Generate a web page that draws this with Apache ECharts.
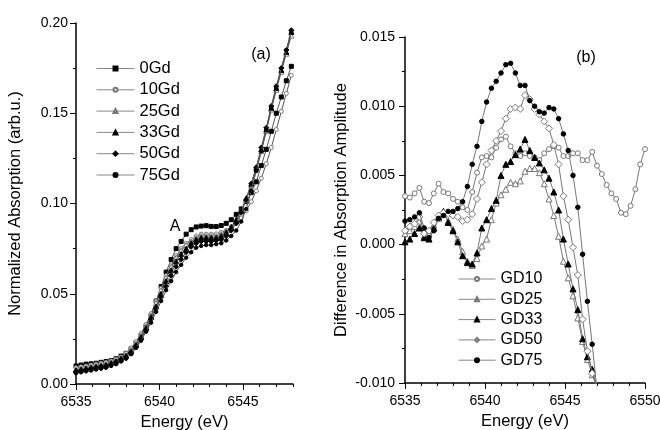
<!DOCTYPE html>
<html><head><meta charset="utf-8">
<script src="https://cdn.jsdelivr.net/npm/echarts@6/dist/echarts.min.js"></script>
<style>html,body{margin:0;padding:0;background:#fff}#c{width:660px;height:430px}</style>
</head><body><div id="c"></div>
<script>
// ---------- data ----------
const leftEnergy = [6535.0,6535.3,6535.6,6535.9,6536.2,6536.5,6536.8,6537.1,6537.4,6537.7,6538.0,6538.3,6538.6,6538.9,6539.2,6539.5,6539.8,6540.1,6540.4,6540.7,6541.0,6541.3,6541.6,6541.9,6542.2,6542.5,6542.8,6543.1,6543.4,6543.7,6544.0,6544.3,6544.6,6544.9,6545.2,6545.5,6545.8,6546.1,6546.4,6546.7,6547.0,6547.3,6547.6,6547.9];
const rightEnergy = [6535.0,6535.3,6535.6,6535.9,6536.2,6536.5,6536.8,6537.1,6537.4,6537.7,6538.0,6538.3,6538.6,6538.9,6539.2,6539.5,6539.8,6540.1,6540.4,6540.7,6541.0,6541.3,6541.6,6541.9,6542.2,6542.5,6542.8,6543.1,6543.4,6543.7,6544.0,6544.3,6544.6,6544.9,6545.2,6545.5,6545.8,6546.1,6546.4,6546.7,6547.0,6547.3,6547.6,6547.9,6548.2,6548.5,6548.8,6549.1,6549.4,6549.7,6550.0];

const leftNames = ['0Gd','10Gd','25Gd','33Gd','50Gd','75Gd'];
const abs0Gd  = [0.010,0.0105,0.011,0.0112,0.0115,0.012,0.0125,0.013,0.014,0.0155,0.017,0.0195,0.023,0.027,0.032,0.038,0.046,0.054,0.062,0.069,0.075,0.079,0.083,0.0855,0.087,0.0875,0.0877,0.0873,0.0872,0.0878,0.089,0.091,0.094,0.097,0.101,0.106,0.112,0.121,0.130,0.140,0.150,0.159,0.168,0.176];
const abs10Gd = [0.009,0.0095,0.010,0.0105,0.011,0.0115,0.012,0.0128,0.0138,0.015,0.017,0.020,0.0235,0.028,0.033,0.039,0.046,0.053,0.060,0.066,0.071,0.075,0.078,0.080,0.082,0.083,0.083,0.083,0.0832,0.084,0.085,0.087,0.089,0.092,0.096,0.101,0.107,0.114,0.122,0.131,0.141,0.151,0.161,0.171];
const abs25Gd = [0.008,0.0085,0.009,0.0095,0.010,0.0105,0.011,0.012,0.013,0.0145,0.016,0.019,0.0225,0.027,0.032,0.038,0.045,0.052,0.059,0.065,0.070,0.074,0.077,0.079,0.081,0.082,0.082,0.082,0.082,0.083,0.085,0.087,0.091,0.096,0.102,0.110,0.119,0.129,0.140,0.152,0.163,0.173,0.183,0.193];
const abs33Gd = [0.0075,0.008,0.0085,0.009,0.0095,0.010,0.0105,0.0115,0.0125,0.014,0.0155,0.018,0.0215,0.026,0.031,0.037,0.043,0.050,0.057,0.063,0.068,0.072,0.075,0.078,0.080,0.081,0.081,0.081,0.081,0.082,0.084,0.087,0.091,0.096,0.103,0.111,0.120,0.130,0.141,0.153,0.164,0.174,0.184,0.195];
const abs50Gd = [0.007,0.0075,0.008,0.0085,0.009,0.0095,0.010,0.011,0.012,0.0135,0.015,0.0175,0.021,0.025,0.030,0.036,0.042,0.048,0.054,0.060,0.065,0.069,0.073,0.076,0.078,0.079,0.079,0.079,0.0795,0.080,0.082,0.085,0.089,0.095,0.102,0.111,0.120,0.131,0.142,0.154,0.165,0.175,0.185,0.196];
const abs75Gd = [0.006,0.0065,0.007,0.0075,0.008,0.0085,0.009,0.010,0.011,0.0125,0.014,0.0165,0.020,0.024,0.029,0.034,0.040,0.046,0.052,0.057,0.062,0.066,0.070,0.073,0.0755,0.0765,0.077,0.077,0.0775,0.078,0.0795,0.082,0.085,0.090,0.097,0.107,0.118,0.129,0.141,0.153,0.164,0.175,0.185,0.195];

const rightNames = ['GD10','GD25','GD33','GD50','GD75'];
const diffGD10 = [0.0035,0.0034,0.0037,0.0041,0.0031,0.0030,0.0037,0.0044,0.0038,0.0037,0.0033,0.0031,0.0027,0.0025,0.0038,0.0052,0.0063,0.0064,0.0063,0.0070,0.0076,0.0078,0.0071,0.0066,0.0064,0.0066,0.0064,0.0063,0.0061,0.0066,0.0069,0.0071,0.0070,0.0064,0.0064,0.0066,0.0066,0.0061,0.0061,0.0067,0.0057,0.0051,0.0043,0.0037,0.0033,0.0023,0.0022,0.0028,0.0040,0.0058,0.0069];
const diffGD25 = [0.0008,0.0010,0.0013,0.0017,0.0006,0.0008,0.0014,0.0019,0.0022,0.0017,0.0011,0.0004,-0.0005,-0.0012,-0.0015,-0.0010,-0.0001,0.0004,0.0018,0.0030,0.0036,0.0040,0.0045,0.0044,0.0046,0.0053,0.0055,0.0055,0.0052,0.0044,0.0033,0.0021,0.0006,-0.0012,-0.0024,-0.0037,-0.0053,-0.0070,-0.0083,-0.0094,-0.0104];
const diffGD33 = [0.0002,0.0004,0.0008,0.0012,0.0005,0.0004,0.0012,0.0020,0.0024,0.0016,0.0010,0.0002,-0.0008,-0.0013,-0.0014,-0.0006,0.0012,0.0018,0.0026,0.0032,0.0050,0.0058,0.0060,0.0065,0.0069,0.0076,0.0068,0.0063,0.0059,0.0054,0.0048,0.0038,0.0025,0.0004,-0.0014,-0.0032,-0.0047,-0.0068,-0.0081,-0.0090,-0.0102];
const diffGD50 = [0.0010,0.0013,0.0015,0.0020,0.0008,0.0010,0.0016,0.0021,0.0023,0.0022,0.0021,0.0020,0.0017,0.0018,0.0022,0.0033,0.0045,0.0058,0.0068,0.0075,0.0082,0.0091,0.0098,0.0099,0.0098,0.0108,0.0105,0.0098,0.0094,0.0089,0.0084,0.0072,0.0058,0.0035,0.0018,-0.0002,-0.0022,-0.0054,-0.0077,-0.0093,-0.0102];
const diffGD75 = [0.0017,0.0018,0.0020,0.0023,0.0012,0.0005,0.0010,0.0019,0.0021,0.0024,0.0024,0.0026,0.0031,0.0042,0.0058,0.0071,0.0089,0.0103,0.0113,0.0118,0.0124,0.0130,0.0131,0.0124,0.0115,0.0115,0.0104,0.0100,0.0096,0.0095,0.0099,0.0098,0.0091,0.0080,0.0068,0.0050,0.0027,-0.0007,-0.0041,-0.0072,-0.0105];

const leftXLabels = [6535, 6540, 6545];
const rightXLabels = [6535, 6540, 6545, 6550];

// ---------- chart ----------
const FONT = '"Liberation Sans", Arial, sans-serif';
const chart = echarts.init(document.getElementById('c'), null, {renderer: 'canvas'});
const pair = (xs, ys) => ys.map((y, i) => [xs[i], y]);
const txt = (size) => ({fontFamily: FONT, fontSize: size, color: '#000'});
const axLine = {onZero: false, lineStyle: {color: '#000', width: 1.5}};

const leftStyles = [
  {symbol: 'rect', size: 4, fill: '#000', border: '#000'},
  {symbol: 'circle', size: 4, fill: '#fff', border: '#777'},
  {symbol: 'triangle', size: 5, fill: '#fff', border: '#777'},
  {symbol: 'triangle', size: 5, fill: '#000', border: '#000'},
  {symbol: 'diamond', size: 5, fill: '#000', border: '#000'},
  {symbol: 'circle', size: 3.5, fill: '#000', border: '#000'}
];
const rightStyles = [
  {symbol: 'circle', size: 5, fill: '#fff', border: '#777'},
  {symbol: 'triangle', size: 6, fill: '#fff', border: '#777'},
  {symbol: 'triangle', size: 6, fill: '#000', border: '#000'},
  {symbol: 'diamond', size: 7, fill: '#fff', border: '#777'},
  {symbol: 'circle', size: 4.5, fill: '#000', border: '#000'}
];
const leftData = [abs0Gd, abs10Gd, abs25Gd, abs33Gd, abs50Gd, abs75Gd];
const rightData = [diffGD10, diffGD25, diffGD33, diffGD50, diffGD75];

const series = [];
leftNames.forEach((n, k) => {
  const s = leftStyles[k];
  series.push({
    name: n, type: 'line', xAxisIndex: 0, yAxisIndex: 0,
    data: pair(leftEnergy, leftData[k]),
    symbol: s.symbol, symbolSize: s.size, showAllSymbol: true,
    lineStyle: {color: '#555', width: 1},
    itemStyle: {color: s.fill, borderColor: s.border, borderWidth: 1},
    emphasis: {disabled: true}, z: 2 + k
  });
});
rightNames.forEach((n, k) => {
  const s = rightStyles[k];
  series.push({
    name: n, type: 'line', xAxisIndex: 2, yAxisIndex: 1,
    data: pair(rightEnergy, rightData[k]),
    symbol: s.symbol, symbolSize: s.size, showAllSymbol: true,
    lineStyle: {color: '#777', width: 1},
    itemStyle: {color: s.fill, borderColor: s.border, borderWidth: 1},
    emphasis: {disabled: true}, z: 2 + k
  });
});

const option = {
  animation: false,
  backgroundColor: '#fff',
  grid: [
    {left: 76, top: 23, width: 217, height: 361, outerBoundsMode: 'none', containLabel: false},
    {left: 405, top: 37, width: 240, height: 346, outerBoundsMode: 'none', containLabel: false}
  ],
  xAxis: [
    {gridIndex: 0, type: 'value', min: 6535, max: 6548, interval: 1,
     axisLine: axLine, axisTick: {length: 3, lineStyle: {color: '#000', width: 1}},
     axisLabel: Object.assign(txt(14), {margin: 11, formatter: v => leftXLabels.includes(v) ? String(v) : ''}),
     splitLine: {show: false},
     name: 'Energy (eV)', nameLocation: 'middle', nameGap: 28, nameTextStyle: txt(16.5)},
    {gridIndex: 0, type: 'value', min: 6535, max: 6548, position: 'bottom', offset: 0,
     axisLine: {show: false, onZero: false}, axisTick: {length: 6, customValues: leftXLabels, lineStyle: {color: '#000', width: 1}},
     axisLabel: {show: false}, splitLine: {show: false}},
    {gridIndex: 1, type: 'value', min: 6535, max: 6550, interval: 5,
     axisLine: axLine, axisTick: {length: 6, lineStyle: {color: '#000', width: 1}},
     minorTick: {show: true, splitNumber: 5, length: 3, lineStyle: {color: '#000', width: 1}},
     axisLabel: Object.assign(txt(14), {margin: 11, formatter: v => rightXLabels.includes(v) ? String(v) : ''}),
     splitLine: {show: false}, minorSplitLine: {show: false},
     name: 'Energy (eV)', nameLocation: 'middle', nameGap: 28, nameTextStyle: txt(16.5)}
  ],
  yAxis: [
    {gridIndex: 0, type: 'value', min: 0, max: 0.2, interval: 0.05,
     axisLine: axLine, axisTick: {length: 6, lineStyle: {color: '#000', width: 1}},
     minorTick: {show: true, splitNumber: 2, length: 3, lineStyle: {color: '#000', width: 1}},
     axisLabel: Object.assign(txt(14), {margin: 8, formatter: v => v.toFixed(2)}),
     splitLine: {show: false}, minorSplitLine: {show: false},
     name: 'Normalized Absorption (arb.u.)', nameLocation: 'middle', nameGap: 52, nameTextStyle: txt(16.5)},
    {gridIndex: 1, type: 'value', min: -0.01, max: 0.015, interval: 0.005,
     axisLine: axLine, axisTick: {length: 6, lineStyle: {color: '#000', width: 1}},
     minorTick: {show: true, splitNumber: 2, length: 3, lineStyle: {color: '#000', width: 1}},
     axisLabel: Object.assign(txt(14), {margin: 10, formatter: v => (Math.abs(v) < 1e-9 ? 0 : v).toFixed(3)}),
     splitLine: {show: false}, minorSplitLine: {show: false},
     name: 'Difference in Absorption Amplitude', nameLocation: 'middle', nameGap: 55, nameTextStyle: txt(16.5)}
  ],
  legend: [
    {data: leftNames, orient: 'vertical', left: 96, top: 60, padding: 0,
     itemWidth: 38, itemHeight: 5, itemGap: 4.3, textStyle: txt(16.5), selectedMode: false,
     lineStyle: {color: '#888', width: 1}},
    {data: rightNames, orient: 'vertical', left: 458, top: 271, padding: 0,
     itemWidth: 37, itemHeight: 5, itemGap: 4.3, textStyle: txt(16), selectedMode: false,
     lineStyle: {color: '#888', width: 1}}
  ],
  graphic: [
    {type: 'text', x: 261, y: 55, style: {text: '(a)', font: '16px ' + FONT, fill: '#000', align: 'center', verticalAlign: 'middle', textAlign: 'center', textVerticalAlign: 'middle'}},
    {type: 'text', x: 586, y: 58, style: {text: '(b)', font: '16px ' + FONT, fill: '#000', align: 'center', verticalAlign: 'middle', textAlign: 'center', textVerticalAlign: 'middle'}},
    {type: 'text', x: 175, y: 227, style: {text: 'A', font: '16px ' + FONT, fill: '#000', align: 'center', verticalAlign: 'middle', textAlign: 'center', textVerticalAlign: 'middle'}}
  ],
  series: series
};
chart.setOption(option);
</script></body></html>
